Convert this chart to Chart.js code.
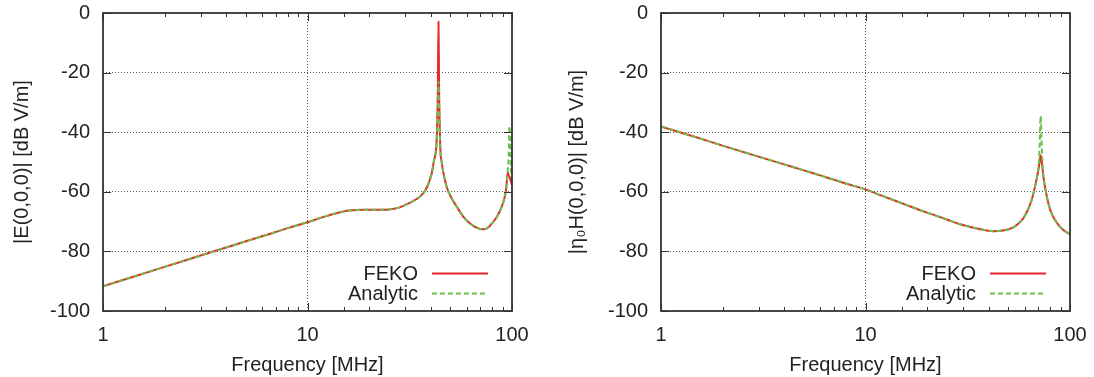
<!DOCTYPE html>
<html>
<head>
<meta charset="utf-8">
<script src="https://cdn.jsdelivr.net/npm/chart.js@4.4.1/dist/chart.umd.min.js"></script>
<style>
  html, body { margin: 0; padding: 0; background: #ffffff; }
  #wrap { position: relative; width: 1094px; height: 377px; }
  canvas { position: absolute; top: 0; }
  #cE { left: 0; }
  #cH { left: 547px; }
</style>
</head>
<body>
<div id="wrap">
  <canvas id="cE" width="547" height="377"></canvas>
  <canvas id="cH" width="547" height="377"></canvas>
</div>
<script>
// ---------- data ----------
const freqE     = [1, 1.5, 2, 3, 4, 5, 6, 7, 8, 10, 12, 14, 16, 19, 22, 25, 28, 31, 34, 36.5, 38.5, 40.5, 41.6, 42.8, 43.4, 43.7, 44.0, 44.6, 45.3, 46, 47.9, 50.5, 53.7, 58, 62.3, 67, 72.4, 77, 81.1, 85, 89.1, 91.5, 93.5, 95.3, 96.3, 97.2, 98.2, 99, 100];
const fekoE     = [-91.7, -87.9, -85.2, -81.4, -78.7, -76.6, -74.9, -73.5, -72.2, -70.2, -68.4, -67.1, -66.3, -66.0, -66.0, -65.9, -65.3, -64.0, -62.5, -60.8, -58.3, -53.8, -49.3, -43, -25, -2.9, -25, -45, -50, -53, -58.3, -62, -65, -68.5, -70.6, -72, -72.6, -71.8, -70, -68, -65, -62.5, -59.4, -53.5, -54.5, -55, -56, -56.8, -57.7];
const analyticE = [-91.7, -87.9, -85.2, -81.4, -78.7, -76.6, -74.9, -73.5, -72.2, -70.2, -68.4, -67.1, -66.3, -66.0, -66.0, -65.9, -65.3, -64.0, -62.5, -60.8, -58.3, -53.8, -49.3, -43, -32, -23, -32, -45, -50, -53, -58.3, -62, -65, -68.5, -70.6, -72, -72.6, -71.8, -70, -68, -65, -62.5, -59.4, -53, -48, -38, -47, -53, -55.5];

const freqH     = [1, 1.5, 2, 3, 4, 5, 6, 7, 8, 10, 12, 15, 20, 25, 29, 35, 42.2, 47, 52.8, 56, 59.1, 61.5, 63.7, 65.7, 67.4, 69, 70, 71, 71.9, 72.8, 74.1, 76, 78.4, 81, 84.5, 88, 92.7, 100];
const fekoH     = [-38.1, -41.8, -44.5, -48.2, -50.8, -52.8, -54.5, -55.9, -57.2, -59.2, -61.3, -63.8, -67, -69.3, -70.9, -72.3, -73.2, -73.0, -71.9, -70.6, -68.9, -66.8, -64.4, -61.5, -58.3, -55, -52.7, -50, -47.7, -50, -54.9, -59.5, -63.9, -67, -69.5, -71.2, -72.8, -74.2];
const analyticH = [-38.1, -41.8, -44.5, -48.2, -50.8, -52.8, -54.5, -55.9, -57.2, -59.2, -61.3, -63.8, -67, -69.3, -70.9, -72.3, -73.2, -73.0, -71.9, -70.6, -68.9, -66.8, -64.4, -61.5, -58.3, -55, -52.7, -45, -34.6, -45, -54.9, -59.5, -63.9, -67, -69.5, -71.2, -72.8, -74.2];

const xLabels = [1, 10, 100];
const yTicksMin = -100, yTicksMax = 0, yStep = 20;
const seriesNames = ['FEKO', 'Analytic'];
const yTitleE = '|E(0,0,0)| [dB V/m]';
const yTitleH = '|\u03B7\u2080H(0,0,0)| [dB V/m]';
const xTitle = 'Frequency [MHz]';

// ---------- styling ----------
const FONT = "'Liberation Sans', Arial, Helvetica, 'DejaVu Sans', sans-serif";
Chart.defaults.font.family = FONT;
Chart.defaults.font.size = 20;
Chart.defaults.color = '#222';

const RED = '#e8262b';
const GREEN = '#6cc04a';

function pts(xs, ys) { return xs.map((x, i) => ({ x: x, y: ys[i] })); }

const framePlugin = {
  id: 'gnuFrame',
  afterDatasetsDraw(chart) {
    const { ctx, chartArea: a, scales } = chart;
    const x = scales.x, y = scales.y;
    ctx.save();
    ctx.strokeStyle = '#333';
    ctx.lineWidth = 1;
    ctx.beginPath();
    x.ticks.forEach(t => {
      const px = Math.round(x.getPixelForValue(t.value)) + 0.5;
      const major = xLabels.includes(t.value);
      const len = major ? 8 : 4;
      ctx.moveTo(px, a.bottom); ctx.lineTo(px, a.bottom - len);
      ctx.moveTo(px, a.top); ctx.lineTo(px, a.top + len);
    });
    y.ticks.forEach(t => {
      const py = Math.round(y.getPixelForValue(t.value)) + 0.5;
      ctx.moveTo(a.left, py); ctx.lineTo(a.left + 8, py);
      ctx.moveTo(a.right, py); ctx.lineTo(a.right - 8, py);
    });
    ctx.stroke();
    ctx.lineWidth = 1.8;
    ctx.strokeRect(a.left, a.top, a.right - a.left, a.bottom - a.top);
    // legend, gnuplot style
    ctx.font = '20px ' + FONT;
    ctx.textAlign = 'right';
    ctx.textBaseline = 'middle';
    const rows = [a.bottom - 38, a.bottom - 18];
    const order = chart.data.datasets.slice().sort((p, q) => p.legendRow - q.legendRow);
    order.forEach((ds, i) => {
      const yy = rows[i];
      ctx.fillStyle = '#222';
      ctx.fillText(ds.label, a.right - 94, yy + 1);
      ctx.strokeStyle = ds.borderColor;
      ctx.lineWidth = ds.borderWidth;
      ctx.setLineDash(ds.borderDash || []);
      ctx.beginPath();
      ctx.moveTo(a.right - 80, yy + 0.5);
      ctx.lineTo(a.right - 24, yy + 0.5);
      ctx.stroke();
      ctx.setLineDash([]);
    });
    ctx.restore();
  }
};

function makeChart(id, xs, feko, analytic, yTitle, yAxisWidth, yTitlePad, rightPad) {
  return new Chart(document.getElementById(id), {
    type: 'line',
    data: {
      datasets: [
        { label: seriesNames[0], data: pts(xs, feko), borderColor: RED, borderWidth: 2,
          pointRadius: 0, cubicInterpolationMode: 'monotone', order: 1, legendRow: 0 },
        { label: seriesNames[1], data: pts(xs, analytic), borderColor: GREEN, borderWidth: 2,
          borderDash: [5, 3], pointRadius: 0, cubicInterpolationMode: 'monotone', order: 0, legendRow: 1 }
      ]
    },
    options: {
      responsive: false, animation: false, devicePixelRatio: 1,
      layout: { padding: { top: 13, right: rightPad, left: 0, bottom: 0 } },
      plugins: { legend: { display: false }, tooltip: { enabled: false } },
      scales: {
        x: {
          type: 'logarithmic', min: 1, max: 100,
          afterFit: s => { s.height = 66; s.paddingLeft = 0; s.paddingRight = 0; },
          grid: { drawTicks: false, color: c => (c.tick && c.tick.value === 10) ? '#555' : 'rgba(0,0,0,0)', lineWidth: 1 },
          border: { display: false, dash: [1, 2] },
          ticks: { autoSkip: false, maxRotation: 0, padding: 12, color: '#222', callback: v => xLabels.includes(v) ? String(v) : '' },
          title: { display: true, text: xTitle, color: '#222', padding: { top: 0, bottom: 0 } }
        },
        y: {
          min: yTicksMin, max: yTicksMax,
          afterFit: s => { s.width = yAxisWidth; s.paddingTop = 0; s.paddingBottom = 0; },
          grid: { drawTicks: false, color: c => (c.tick && (c.tick.value === yTicksMin || c.tick.value === yTicksMax)) ? 'rgba(0,0,0,0)' : '#555', lineWidth: 1 },
          border: { display: false, dash: [1, 2] },
          ticks: { stepSize: yStep, padding: 13, color: '#222' },
          title: { display: true, text: yTitle, color: '#222', padding: { top: yTitlePad, bottom: 0 } }
        }
      }
    },
    plugins: [framePlugin]
  });
}

makeChart('cE', freqE, fekoE, analyticE, yTitleE, 103, 10, 35);
makeChart('cH', freqH, fekoH, analyticH, yTitleH, 114, 18, 24);
</script>
</body>
</html>
